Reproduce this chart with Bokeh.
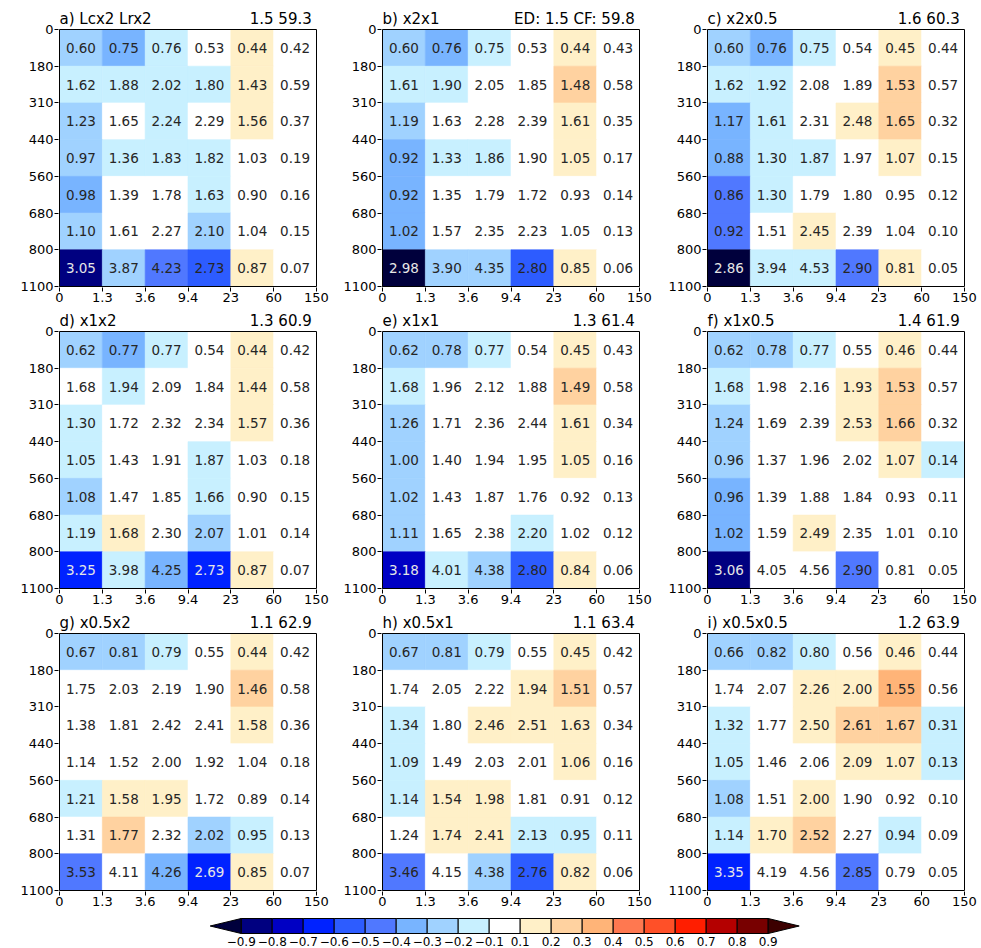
from bokeh.plotting import figure
from bokeh.models import Range1d, FixedTicker, ColumnDataSource
from bokeh.layouts import column, row
from bokeh.embed import file_html
from bokeh.resources import INLINE
from bokeh.core.properties import value
import numpy as np

FONT = "DejaVu Sans"

# ISCCP joint histogram bins: optical depth (x) and cloud-top pressure (y, hPa)
tau_labels = ["0", "1.3", "3.6", "9.4", "23", "60", "150"]
ctp_labels = ["0", "180", "310", "440", "560", "680", "800", "1100"]

# contour levels of the difference field and their fill colours
levels = [-0.9, -0.8, -0.7, -0.6, -0.5, -0.4, -0.3, -0.2, -0.1,
          0.1, 0.2, 0.3, 0.4, 0.5, 0.6, 0.7, 0.8, 0.9]
level_labels = ["−0.9", "−0.8", "−0.7", "−0.6", "−0.5", "−0.4", "−0.3", "−0.2", "−0.1",
                "0.1", "0.2", "0.3", "0.4", "0.5", "0.6", "0.7", "0.8", "0.9"]
palette = ["#00003c", "#000080", "#0000c4", "#0022ff", "#2d5cff", "#5078ff",
           "#78b4ff", "#a0d2ff", "#c8f0ff", "#ffffff", "#fff0c8", "#ffd2a0",
           "#ffb478", "#ff7850", "#ff5028", "#ff1e00", "#b40000", "#780000",
           "#3c0000"]

panel_tags = ["a)", "b)", "c)", "d)", "e)", "f)", "g)", "h)", "i)"]
panel_names = ["Lcx2 Lrx2", "x2x1", "x2x0.5", "x1x2", "x1x1", "x1x0.5",
               "x0.5x2", "x0.5x1", "x0.5x0.5"]
panel_ed = ["1.5", "1.5", "1.6", "1.3", "1.3", "1.4", "1.1", "1.1", "1.2"]
panel_cf = ["59.3", "59.8", "60.3", "60.9", "61.4", "61.9", "62.9", "63.4", "63.9"]

# cloud fraction (%) per bin, rows from 0-180 hPa down to 800-1100 hPa
freq_a = [[0.60, 0.75, 0.76, 0.53, 0.44, 0.42],
          [1.62, 1.88, 2.02, 1.80, 1.43, 0.59],
          [1.23, 1.65, 2.24, 2.29, 1.56, 0.37],
          [0.97, 1.36, 1.83, 1.82, 1.03, 0.19],
          [0.98, 1.39, 1.78, 1.63, 0.90, 0.16],
          [1.10, 1.61, 2.27, 2.10, 1.04, 0.15],
          [3.05, 3.87, 4.23, 2.73, 0.87, 0.07]]
freq_b = [[0.60, 0.76, 0.75, 0.53, 0.44, 0.43],
          [1.61, 1.90, 2.05, 1.85, 1.48, 0.58],
          [1.19, 1.63, 2.28, 2.39, 1.61, 0.35],
          [0.92, 1.33, 1.86, 1.90, 1.05, 0.17],
          [0.92, 1.35, 1.79, 1.72, 0.93, 0.14],
          [1.02, 1.57, 2.35, 2.23, 1.05, 0.13],
          [2.98, 3.90, 4.35, 2.80, 0.85, 0.06]]
freq_c = [[0.60, 0.76, 0.75, 0.54, 0.45, 0.44],
          [1.62, 1.92, 2.08, 1.89, 1.53, 0.57],
          [1.17, 1.61, 2.31, 2.48, 1.65, 0.32],
          [0.88, 1.30, 1.87, 1.97, 1.07, 0.15],
          [0.86, 1.30, 1.79, 1.80, 0.95, 0.12],
          [0.92, 1.51, 2.45, 2.39, 1.04, 0.10],
          [2.86, 3.94, 4.53, 2.90, 0.81, 0.05]]
freq_d = [[0.62, 0.77, 0.77, 0.54, 0.44, 0.42],
          [1.68, 1.94, 2.09, 1.84, 1.44, 0.58],
          [1.30, 1.72, 2.32, 2.34, 1.57, 0.36],
          [1.05, 1.43, 1.91, 1.87, 1.03, 0.18],
          [1.08, 1.47, 1.85, 1.66, 0.90, 0.15],
          [1.19, 1.68, 2.30, 2.07, 1.01, 0.14],
          [3.25, 3.98, 4.25, 2.73, 0.87, 0.07]]
freq_e = [[0.62, 0.78, 0.77, 0.54, 0.45, 0.43],
          [1.68, 1.96, 2.12, 1.88, 1.49, 0.58],
          [1.26, 1.71, 2.36, 2.44, 1.61, 0.34],
          [1.00, 1.40, 1.94, 1.95, 1.05, 0.16],
          [1.02, 1.43, 1.87, 1.76, 0.92, 0.13],
          [1.11, 1.65, 2.38, 2.20, 1.02, 0.12],
          [3.18, 4.01, 4.38, 2.80, 0.84, 0.06]]
freq_f = [[0.62, 0.78, 0.77, 0.55, 0.46, 0.44],
          [1.68, 1.98, 2.16, 1.93, 1.53, 0.57],
          [1.24, 1.69, 2.39, 2.53, 1.66, 0.32],
          [0.96, 1.37, 1.96, 2.02, 1.07, 0.14],
          [0.96, 1.39, 1.88, 1.84, 0.93, 0.11],
          [1.02, 1.59, 2.49, 2.35, 1.01, 0.10],
          [3.06, 4.05, 4.56, 2.90, 0.81, 0.05]]
freq_g = [[0.67, 0.81, 0.79, 0.55, 0.44, 0.42],
          [1.75, 2.03, 2.19, 1.90, 1.46, 0.58],
          [1.38, 1.81, 2.42, 2.41, 1.58, 0.36],
          [1.14, 1.52, 2.00, 1.92, 1.04, 0.18],
          [1.21, 1.58, 1.95, 1.72, 0.89, 0.14],
          [1.31, 1.77, 2.32, 2.02, 0.95, 0.13],
          [3.53, 4.11, 4.26, 2.69, 0.85, 0.07]]
freq_h = [[0.67, 0.81, 0.79, 0.55, 0.45, 0.42],
          [1.74, 2.05, 2.22, 1.94, 1.51, 0.57],
          [1.34, 1.80, 2.46, 2.51, 1.63, 0.34],
          [1.09, 1.49, 2.03, 2.01, 1.06, 0.16],
          [1.14, 1.54, 1.98, 1.81, 0.91, 0.12],
          [1.24, 1.74, 2.41, 2.13, 0.95, 0.11],
          [3.46, 4.15, 4.38, 2.76, 0.82, 0.06]]
freq_i = [[0.66, 0.82, 0.80, 0.56, 0.46, 0.44],
          [1.74, 2.07, 2.26, 2.00, 1.55, 0.56],
          [1.32, 1.77, 2.50, 2.61, 1.67, 0.31],
          [1.05, 1.46, 2.06, 2.09, 1.07, 0.13],
          [1.08, 1.51, 2.00, 1.90, 0.92, 0.10],
          [1.14, 1.70, 2.52, 2.27, 0.94, 0.09],
          [3.35, 4.19, 4.56, 2.85, 0.79, 0.05]]

# difference from observations (shaded)
diff_a = [[-0.25, -0.35, -0.15, 0.00, 0.15, 0.00],
          [-0.15, -0.15, -0.15, -0.15, 0.15, 0.00],
          [-0.25, 0.00, -0.15, 0.00, 0.15, 0.00],
          [-0.25, -0.15, -0.15, -0.15, 0.00, 0.00],
          [-0.35, 0.00, 0.00, -0.15, 0.00, 0.00],
          [-0.25, 0.00, 0.00, -0.25, 0.00, 0.00],
          [-0.85, -0.25, -0.45, -0.55, 0.15, 0.00]]
diff_b = [[-0.25, -0.35, -0.15, 0.00, 0.15, 0.00],
          [-0.15, -0.15, 0.00, 0.00, 0.25, 0.00],
          [-0.25, 0.00, 0.00, 0.00, 0.15, 0.00],
          [-0.35, -0.15, -0.15, 0.00, 0.15, 0.00],
          [-0.35, 0.00, 0.00, 0.00, 0.00, 0.00],
          [-0.35, 0.00, 0.00, 0.00, 0.00, 0.00],
          [-0.95, -0.25, -0.25, -0.55, 0.15, 0.00]]
diff_c = [[-0.25, -0.35, -0.15, 0.00, 0.15, 0.00],
          [-0.15, -0.15, 0.00, 0.00, 0.25, 0.00],
          [-0.35, -0.15, 0.00, 0.15, 0.25, 0.00],
          [-0.35, -0.15, -0.15, 0.00, 0.15, 0.00],
          [-0.45, -0.15, 0.00, 0.00, 0.00, 0.00],
          [-0.45, 0.00, 0.15, 0.00, 0.00, 0.00],
          [-0.95, -0.15, -0.15, -0.45, 0.15, 0.00]]
diff_d = [[-0.25, -0.35, -0.15, 0.00, 0.15, 0.00],
          [0.00, -0.15, 0.00, 0.00, 0.15, 0.00],
          [-0.15, 0.00, 0.00, 0.00, 0.15, 0.00],
          [-0.15, 0.00, 0.00, -0.15, 0.00, 0.00],
          [-0.25, 0.00, 0.00, -0.15, 0.00, 0.00],
          [-0.15, 0.15, 0.00, -0.25, 0.00, 0.00],
          [-0.65, -0.15, -0.35, -0.65, 0.15, 0.00]]
diff_e = [[-0.25, -0.25, -0.15, 0.00, 0.15, 0.00],
          [-0.15, 0.00, 0.00, 0.00, 0.25, 0.00],
          [-0.25, 0.00, 0.00, 0.00, 0.15, 0.00],
          [-0.25, 0.00, 0.00, 0.00, 0.15, 0.00],
          [-0.25, 0.00, 0.00, 0.00, 0.00, 0.00],
          [-0.25, 0.00, 0.00, -0.15, 0.00, 0.00],
          [-0.75, -0.15, -0.25, -0.55, 0.15, 0.00]]
diff_f = [[-0.25, -0.25, -0.15, 0.00, 0.15, 0.00],
          [-0.15, 0.00, 0.00, 0.15, 0.25, 0.00],
          [-0.25, 0.00, 0.00, 0.15, 0.25, 0.00],
          [-0.25, 0.00, 0.00, 0.00, 0.15, -0.15],
          [-0.35, 0.00, 0.00, 0.00, 0.00, 0.00],
          [-0.35, 0.00, 0.15, 0.00, 0.00, 0.00],
          [-0.85, 0.00, 0.00, -0.45, 0.00, 0.00]]
diff_g = [[-0.25, -0.25, -0.15, 0.00, 0.15, 0.00],
          [0.00, 0.00, 0.00, 0.00, 0.25, 0.00],
          [0.00, 0.00, 0.00, 0.00, 0.15, 0.00],
          [0.00, 0.00, 0.00, 0.00, 0.00, 0.00],
          [-0.15, 0.15, 0.15, 0.00, 0.00, 0.00],
          [0.00, 0.25, 0.00, -0.25, -0.15, 0.00],
          [-0.45, 0.00, -0.35, -0.65, 0.15, 0.00]]
diff_h = [[-0.25, -0.25, -0.15, 0.00, 0.15, 0.00],
          [0.00, 0.00, 0.00, 0.15, 0.25, 0.00],
          [-0.15, 0.00, 0.15, 0.15, 0.15, 0.00],
          [-0.15, 0.00, 0.00, 0.00, 0.15, 0.00],
          [-0.15, 0.15, 0.15, 0.00, 0.00, 0.00],
          [0.00, 0.15, 0.15, -0.15, -0.15, 0.00],
          [-0.45, 0.00, -0.25, -0.55, 0.15, 0.00]]
diff_i = [[-0.25, -0.25, -0.15, 0.00, 0.15, 0.00],
          [0.00, 0.00, 0.15, 0.15, 0.35, 0.00],
          [-0.15, 0.00, 0.15, 0.25, 0.25, -0.15],
          [-0.15, 0.00, 0.00, 0.15, 0.15, -0.15],
          [-0.25, 0.00, 0.15, 0.00, 0.00, 0.00],
          [-0.15, 0.15, 0.25, 0.00, -0.15, 0.00],
          [-0.65, 0.00, 0.00, -0.45, 0.00, 0.00]]

freqs = [freq_a, freq_b, freq_c, freq_d, freq_e, freq_f, freq_g, freq_h, freq_i]
diffs = [diff_a, diff_b, diff_c, diff_d, diff_e, diff_f, diff_g, diff_h, diff_i]

n_tau = len(tau_labels) - 1
n_ctp = len(ctp_labels) - 1

# screen layout of the 3x3 grid; each histogram box is 257 px square and the
# plotting area reaches 1 px past it (and up over the title strip)
BOX = 257
border_left = [58, 49, 42]
border_right = [15, 24, 16]
title_strip = [29, 25, 25]
border_bottom = 19
px_x = BOX / n_tau
px_y = BOX / n_ctp


def make_panel(k):
    prow, pcol = divmod(k, 3)
    freq = np.array(freqs[k])
    diff = np.array(diffs[k])
    jj, ii = np.meshgrid(np.arange(n_ctp), np.arange(n_tau), indexing="ij")
    idx = np.digitize(diff, levels)
    colors = [palette[v] for v in idx.ravel()]
    txt_col = ["#e6e6e6" if v <= 3 else "#262626" for v in idx.ravel()]
    src = ColumnDataSource(dict(
        left=ii.ravel(), right=ii.ravel() + 1,
        top=jj.ravel(), bottom=jj.ravel() + 1,
        xc=ii.ravel() + 0.5, yc=jj.ravel() + 0.5,
        color=colors, tcol=txt_col,
        label=["%.2f" % v for v in freq.ravel()],
    ))
    strip = title_strip[prow]
    p = figure(frame_width=BOX + 2, frame_height=BOX + 1 + strip,
               x_range=Range1d(-1 / px_x, n_tau + 1 / px_x),
               y_range=Range1d(n_ctp + 1 / px_y, -strip / px_y),
               output_backend="svg", toolbar_location=None,
               min_border_left=border_left[pcol], min_border_right=border_right[pcol],
               min_border_top=0, min_border_bottom=border_bottom)
    p.quad(left="left", right="right", top="top", bottom="bottom", source=src,
           fill_color="color", line_color="color", line_width=0.6)
    # frame around the histogram
    p.quad(left=[0], right=[n_tau], top=[0], bottom=[n_ctp],
           fill_color=None, line_color="black", line_width=1)
    p.text(x="xc", y="yc", text="label", source=src, text_color="tcol",
           text_font=value(FONT), text_font_size="13.5px",
           text_align="center", text_baseline="middle")
    # panel titles: experiment name on the left, ED and CF on the right
    right_text = (f"ED: {panel_ed[k]}  CF: {panel_cf[k]}" if k == 1
                  else f"{panel_ed[k]}  {panel_cf[k]}")
    p.text(x=[0, n_tau], y=[-10.5 / px_y] * 2,
           text=[f"{panel_tags[k]} {panel_names[k]}", right_text],
           text_align=["left", "right"], text_baseline="middle",
           text_font=value(FONT), text_font_size="15px", text_color="black")
    p.grid.visible = False
    p.outline_line_color = None
    p.background_fill_color = "white"
    p.xaxis.ticker = FixedTicker(ticks=list(range(n_tau + 1)))
    p.xaxis.major_label_overrides = {i: s for i, s in enumerate(tau_labels)}
    p.yaxis.ticker = FixedTicker(ticks=list(range(n_ctp + 1)))
    p.yaxis.major_label_overrides = {i: s for i, s in enumerate(ctp_labels)}
    for ax in (p.xaxis[0], p.yaxis[0]):
        ax.major_tick_in = 0
        ax.major_tick_out = 4
        ax.major_label_standoff = 1
        ax.minor_tick_line_color = None
        ax.axis_line_color = None
        ax.major_tick_line_color = "black"
        ax.major_label_text_font = FONT
        ax.major_label_text_font_size = "13px"
        ax.major_label_text_color = "black"
    return p


panels = [make_panel(k) for k in range(9)]

# horizontal label bar with triangular end caps
box_px = 31.0
bar_x0 = 240.7
cb_w, cb_h = 981, 38
n_box = len(levels) - 1
cb = figure(width=cb_w, height=cb_h, output_backend="svg", toolbar_location=None,
            x_range=Range1d(-bar_x0 / box_px, (cb_w - bar_x0) / box_px),
            y_range=Range1d(cb_h, 0), min_border=0,
            x_axis_location=None, y_axis_location=None)
cb.grid.visible = False
cb.outline_line_color = None
bar_top, bar_bot = 8, 23
bx = np.arange(n_box)
cb.quad(left=bx, right=bx + 1, top=bar_top, bottom=bar_bot,
        fill_color=palette[1:-1], line_color="black", line_width=1)
mid = (bar_top + bar_bot) / 2
cb.patches(xs=[[0, -1, 0], [n_box, n_box + 1, n_box]],
           ys=[[bar_top, mid, bar_bot], [bar_top, mid, bar_bot]],
           fill_color=[palette[0], palette[-1]], line_color="black", line_width=1)
cb.text(x=list(range(len(levels))), y=[30.5] * len(levels), text=level_labels,
        text_font=value(FONT), text_font_size="12px", text_color="black",
        text_align="center", text_baseline="middle")

layout = column(row(*panels[0:3]), row(*panels[3:6]), row(*panels[6:9]), cb)

open("out.html", "w").write(file_html(layout, INLINE))
